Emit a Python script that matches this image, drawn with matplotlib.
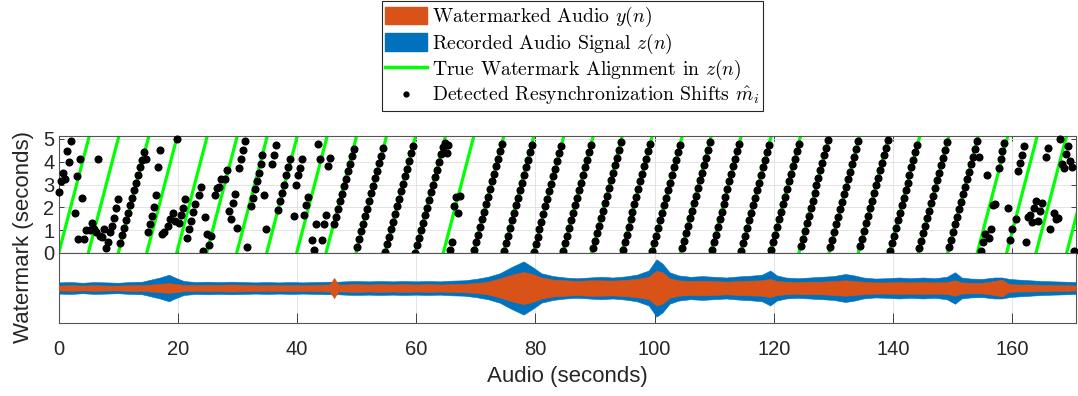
import numpy as np
import matplotlib.pyplot as plt
from matplotlib.patches import Patch
from matplotlib.lines import Line2D

plt.rcParams['font.family'] = ['Liberation Sans', 'DejaVu Sans']
plt.rcParams['mathtext.fontset'] = 'cm'

nan = np.nan

# start of each true watermark copy inside z(n), seconds
line_start = [0.0, 4.97, 10.0, 14.77, 19.8, 24.83, 29.87, 34.9, 39.93, 44.85,
              49.88, 54.75, 59.78, 64.53, 69.56, 74.6, 79.63, 84.56, 89.43, 94.46,
              99.5, 104.36, 109.4, 114.43, 119.35, 124.21, 129.25, 134.16, 139.36, 144.23,
              149.16, 154.13, 159.06, 163.98, 169.13]
wm_len = 5.0

# detected shifts, one per analysis hop (15 hops per row)
hop = 0.332
shift_rows = [
    [2.68, 3.14, 3.52, 3.26, 4.46, 3.99, 4.9, nan, 1.77, 3.38, 0.63, 4.11, 2.41, 0.63, 0.99],
    [nan, 1.0, 1.33, 1.07, 0.92, 4.11, 0.75, 0.7, 1.07, 0.2, 0.5, 0.92, 1.18, 1.53, 1.97],
    [2.35, 0.45, 0.78, 1.11, 1.44, 1.77, 2.1, 2.43, 2.76, 3.09, 3.42, 3.75, 4.08, 4.41, 4.1],
    [0.92, 1.29, 1.62, 2.02, 2.53, 3.77, 4.5, 0.85, 0.9, nan, 1.2, 1.47, nan, 1.77, 1.39],
    [5.0, 1.33, 1.68, 1.97, 2.38, 0.66, 1.04, 1.39, 1.8, 2.17, nan, 2.53, 2.9, 0.1, 1.58],
    [0.85, 0.33, 0.75, nan, 2.53, 2.85, 2.9, 3.26, nan, 3.26, 3.63, 1.82, 1.48, 2.2, 2.6],
    [1.1, 3.73, 4.11, 4.5, 4.9, 0.26, nan, 2.06, 2.41, 2.79, 3.14, 3.52, 3.92, 4.28, 2.55],
    [1.04, nan, nan, 3.92, 4.31, 4.72, 1.87, 2.26, 2.64, 2.99, 3.4, 3.77, 4.14, nan, 1.62],
    [2.99, 3.4, 3.73, 4.11, 1.68, 2.09, 2.45, nan, 0.56, 0.12, 1.29, 4.79, 4.11, 0.56, 1.29],
    [1.65, 3.8, 4.16, nan, 1.27, 1.6, 1.93, 2.26, 2.59, 2.92, 3.25, 3.58, 3.91, 4.24, 4.57],
    [nan, 0.28, 0.61, 0.95, 1.28, 1.61, 1.94, 2.27, 2.61, 2.94, 3.27, 3.60, 3.93, 4.27, 4.60],
    [0.05, 0.38, 0.71, 1.05, 1.38, 1.71, 2.04, 2.37, 2.71, 3.04, 3.37, 3.70, 4.03, 4.37, 4.70],
    [0.00, 0.33, 0.66, 1.00, 1.33, 1.66, 1.99, 2.32, 2.66, 2.99, 3.32, 3.65, 3.98, 4.32, 4.65],
    [4.81, 4.37, 4.74, 0.13, 0.5, 2.06, 2.47, 1.74, 2.5, nan, nan, nan, nan, nan, nan],
    [0.15, 0.48, 0.81, 1.15, 1.48, 1.81, 2.14, 2.47, 2.81, 3.14, 3.47, 3.80, 4.13, 4.47, 4.80],
    [0.10, 0.43, 0.76, 1.10, 1.43, 1.76, 2.09, 2.42, 2.76, 3.09, 3.42, 3.75, 4.08, 4.42, 4.75],
    [0.05, 0.38, 0.71, 1.05, 1.38, 1.71, 2.04, 2.37, 2.71, 3.04, 3.37, 3.70, 4.03, 4.37, 4.70],
    [0.10, 0.43, 0.76, 1.10, 1.43, 1.76, 2.09, 2.42, 2.76, 3.09, 3.42, 3.75, 4.08, 4.42, 4.75],
    [0.20, 0.53, 0.86, 1.20, 1.53, 1.86, 2.19, 2.52, 2.86, 3.19, 3.52, 3.85, 4.18, 4.52, 4.85],
    [0.15, 0.48, 0.81, 1.15, 1.48, 1.81, 2.14, 2.47, 2.81, 3.14, 3.47, 3.80, 4.13, 4.47, 4.80],
    [0.10, 0.43, 0.76, 1.10, 1.43, 1.76, 2.09, 2.42, 2.76, 3.09, 3.42, 3.75, 4.08, 4.42, 4.75],
    [0.20, 0.53, 0.86, 1.20, 1.53, 1.86, 2.19, 2.52, 2.86, 3.19, 3.52, 3.85, 4.18, 4.52, 4.85],
    [0.15, 0.48, 0.81, 1.15, 1.48, 1.81, 2.14, 2.47, 2.81, 3.14, 3.47, 3.80, 4.13, 4.47, 4.80],
    [0.10, 0.43, 0.76, 1.10, 1.43, 1.76, 2.09, 2.42, 2.76, 3.09, 3.42, 3.75, 4.08, 4.42, 4.75],
    [0.15, 0.48, 0.81, 1.15, 1.48, 1.81, 2.14, 2.47, 2.81, 3.14, 3.47, 3.80, 4.13, 4.47, 4.80],
    [0.30, 0.63, 0.96, 1.30, 1.63, 1.96, 2.29, 2.62, 2.96, 3.29, 3.62, 3.95, 4.28, 4.62, 4.95],
    [0.25, 0.58, 0.91, 1.25, 1.58, 1.91, 2.24, 2.57, 2.91, 3.24, 3.57, 3.90, 4.23, 4.57, 4.90],
    [0.30, 0.63, 0.96, 1.30, 1.63, 1.96, 2.29, 2.62, 2.96, 3.29, 3.62, 3.95, 4.28, 4.62, 4.95],
    [0.10, 0.43, 0.76, 1.10, 1.43, 1.76, 2.09, 2.42, 2.76, 3.09, 3.42, 3.75, 4.08, 4.42, 4.75],
    [0.20, 0.53, 0.86, 1.20, 1.53, 1.86, 2.19, 2.52, 2.86, 3.19, 3.52, 3.85, 4.18, 4.52, 4.85],
    [0.25, 0.58, 0.91, 1.25, 1.58, 1.91, 2.24, 2.57, 2.91, 3.24, 3.57, 3.90, 4.23, 4.57, 4.90],
    [4.21, 0.07, 0.48, 0.85, 3.43, 0.66, 1.04, 2.1, 2.16, nan, 3.73, 4.11, 4.46, 4.84, nan],
    [1.97, 0.55, 1.07, nan, 1.47, 3.58, 3.96, 4.31, 4.69, 0.48, 1.58, 1.65, 1.36, 1.97, 2.27],
    [1.39, 1.83, 2.2, nan, 4.21, 4.61, 1.04, nan, 1.77, 1.47, 1.53, 4.98, 3.92, 3.73, 4.36],
    [4.69, 4.02, 3.77, 0.1],
]

# audio envelopes (peak amplitude, normalised)
env_time = [0, 2, 4, 6, 8, 10, 12, 14, 15.5, 17, 18.5, 19.5, 21, 23, 25, 27, 29, 31, 33, 35,
            37, 39, 41, 43, 45.5, 46.2, 46.9, 48, 50, 52, 54, 56, 58, 60, 62, 64, 66, 68, 70, 72,
            74, 76, 78, 79.5, 81, 83, 85, 87, 89, 91, 93, 95, 97, 99, 100.3, 101.3, 102.5, 104, 106, 108,
            110, 112, 114, 116, 118, 119.4, 120.5, 122, 124, 126, 128, 130, 132, 133.5, 135, 137, 139, 141, 143, 145,
            147, 149, 150.4, 151.5, 153, 155, 157, 158.3, 159.5, 161, 163, 165, 167, 169, 170.7]
env_z = [0.16, 0.17, 0.15, 0.17, 0.16, 0.15, 0.17, 0.18, 0.24, 0.30, 0.38, 0.30, 0.20, 0.17, 0.18, 0.17, 0.18, 0.17, 0.16, 0.17,
         0.16, 0.17, 0.16, 0.17, 0.18, 0.18, 0.18, 0.19, 0.20, 0.19, 0.20, 0.19, 0.20, 0.19, 0.20, 0.19, 0.21, 0.22, 0.26, 0.32,
         0.42, 0.60, 0.76, 0.60, 0.42, 0.34, 0.30, 0.28, 0.30, 0.32, 0.30, 0.33, 0.38, 0.50, 0.82, 0.70, 0.45, 0.36, 0.32, 0.34,
         0.32, 0.30, 0.33, 0.35, 0.38, 0.50, 0.36, 0.30, 0.28, 0.30, 0.32, 0.34, 0.40, 0.36, 0.30, 0.27, 0.28, 0.30, 0.28, 0.30,
         0.28, 0.32, 0.45, 0.30, 0.27, 0.26, 0.30, 0.30, 0.26, 0.24, 0.22, 0.20, 0.19, 0.18, 0.17]
env_y = [0.07, 0.08, 0.07, 0.08, 0.07, 0.07, 0.08, 0.08, 0.10, 0.12, 0.14, 0.12, 0.09, 0.08, 0.09, 0.09, 0.10, 0.09, 0.08, 0.08,
         0.08, 0.08, 0.08, 0.09, 0.10, 0.29, 0.10, 0.10, 0.11, 0.10, 0.11, 0.10, 0.11, 0.10, 0.11, 0.10, 0.11, 0.12, 0.14, 0.18,
         0.27, 0.38, 0.46, 0.40, 0.30, 0.24, 0.22, 0.20, 0.22, 0.22, 0.21, 0.23, 0.26, 0.32, 0.50, 0.45, 0.28, 0.22, 0.20, 0.21,
         0.20, 0.18, 0.20, 0.21, 0.22, 0.26, 0.20, 0.18, 0.17, 0.18, 0.18, 0.20, 0.22, 0.20, 0.18, 0.16, 0.16, 0.17, 0.16, 0.17,
         0.16, 0.17, 0.22, 0.16, 0.15, 0.15, 0.20, 0.24, 0.11, 0.10, 0.10, 0.09, 0.08, 0.08, 0.07]

c_orange = '#D95319'
c_blue = '#0072BD'
c_green = '#00FF00'
c_axis = '#262626'
x_max = 170.7

fig = plt.figure(figsize=(10.78, 3.96), dpi=100)
W, H = 1078.0, 396.0
left = 58.7 / W
width = (1076 - 58.7) / W
ax1 = fig.add_axes([left, 1 - 253 / H, width, (253 - 136) / H])
ax2 = fig.add_axes([left, 1 - 323 / H, width, (323 - 253) / H])

# --- top: watermark alignment ---
seg_x, seg_y = [], []
for s in line_start:
    seg_x += [s, s + 5.2, nan]
    seg_y += [0, 5.2, nan]
ax1.plot(seg_x, seg_y, color=c_green, lw=2.3, zorder=2)

shifts = np.concatenate([np.array(r, dtype=float) for r in shift_rows])
times = np.arange(len(shifts)) * hop
ax1.plot(times, shifts, ls='none', marker='o', ms=4.8, color='k', zorder=3, clip_on=False)

ax1.set_xlim(0, x_max)
ax1.set_ylim(0, 5.13)
ax1.set_yticks([0, 1, 2, 3, 4, 5])
ax1.set_xticks(np.arange(0, 161, 20))
ax1.tick_params(axis='both', direction='in', length=3.5, width=0.6, colors=c_axis,
                labelsize=14.5, top=True, right=True, labelbottom=False, pad=3)
ax1.grid(True, color='#e3e3e3', lw=0.7)
ax1.set_axisbelow(True)

# --- bottom: audio ---
ax2.fill_between(env_time, -np.array(env_z), env_z, color=c_blue, lw=0.4, zorder=2)
ax2.fill_between(env_time, -np.array(env_y), env_y, color=c_orange, lw=0.4, zorder=3)
ax2.set_xlim(0, x_max)
ax2.set_ylim(-1, 1)
ax2.set_yticks([])
ax2.set_xticks(np.arange(0, 161, 20))
ax2.tick_params(axis='x', direction='in', length=7, width=0.6, colors=c_axis, labelsize=14.5, pad=12)
ax2.grid(True, axis='x', color='#e3e3e3', lw=0.7)
ax2.set_axisbelow(True)
ax2.set_xlabel('Audio (seconds)', fontsize=16, color=c_axis, labelpad=5)

for ax in (ax1, ax2):
    for sp in ax.spines.values():
        sp.set_color('#555555')
        sp.set_linewidth(0.8)

fig.text(24 / W, 1 - 237 / H, 'Watermark (seconds)', rotation=90, ha='center', va='center',
         fontsize=16, color=c_axis)

handles = [Patch(facecolor=c_orange, edgecolor=c_orange),
           Patch(facecolor=c_blue, edgecolor=c_blue),
           Line2D([], [], color=c_green, lw=2.5),
           Line2D([], [], ls='none', marker='o', ms=3.5, color='k')]
labels = [r'Watermarked Audio $y(n)$',
          r'Recorded Audio Signal $z(n)$',
          r'True Watermark Alignment in $z(n)$',
          r'Detected Resynchronization Shifts $\hat{m}_i$']
leg = fig.legend(handles, labels, loc='upper center', bbox_to_anchor=(0.531, 0.997),
                 prop={'family': 'cmr10', 'size': 14.2}, frameon=True, fancybox=False,
                 edgecolor=c_axis, framealpha=1, borderpad=0.2, labelspacing=0.12,
                 handlelength=2.1, handleheight=1.0, handletextpad=0.25, borderaxespad=0)
leg.get_frame().set_linewidth(0.8)

fig.savefig('out.png', dpi=100)
